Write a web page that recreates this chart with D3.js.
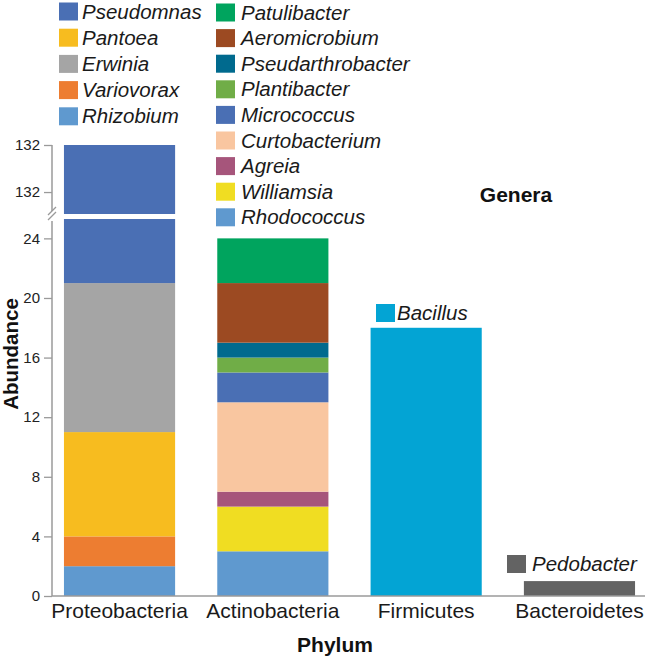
<!DOCTYPE html>
<html><head><meta charset="utf-8">
<script src="https://cdn.jsdelivr.net/npm/d3@7"></script>
<style>body{margin:0;background:#fff}text{font-family:"Liberation Sans",Arial,sans-serif}</style>
</head><body>
<svg id="c" width="645" height="660"></svg>
<script>
const phyla = ["Proteobacteria","Actinobacteria","Firmicutes","Bacteroidetes"];
const proteoGenera = ["Rhizobium","Variovorax","Pantoea","Erwinia","Pseudomonas"];
const proteoValues = [2,2,7,10,111];
const actinoGenera = ["Rhodococcus","Williamsia","Agreia","Curtobacterium","Micrococcus","Plantibacter","Pseudarthrobacter","Aeromicrobium","Patulibacter"];
const actinoValues = [3,3,1,6,2,1,1,4,3];
const firmGenera = ["Bacillus"];
const firmValues = [18];
const bactGenera = ["Pedobacter"];
const bactValues = [1];
const genusColors = {
  Pseudomonas:"#4a6fb4", Pantoea:"#f7bc1f", Erwinia:"#a5a5a5", Variovorax:"#ed7d31", Rhizobium:"#5f99cf",
  Patulibacter:"#00a45e", Aeromicrobium:"#9c4a22", Pseudarthrobacter:"#006a8e", Plantibacter:"#70ad47",
  Micrococcus:"#4a6fb4", Curtobacterium:"#f9c6a0", Agreia:"#a6557b", Williamsia:"#f0dd22", Rhodococcus:"#5f99cf",
  Bacillus:"#03a4d4", Pedobacter:"#636363"
};
// legend entries (label text as printed in the original figure)
const legendLeft = ["Pseudomonas","Pantoea","Erwinia","Variovorax","Rhizobium"];
const legendLeftLabels = ["Pseudomnas","Pantoea","Erwinia","Variovorax","Rhizobium"];
const legendRight = ["Patulibacter","Aeromicrobium","Pseudarthrobacter","Plantibacter","Micrococcus","Curtobacterium","Agreia","Williamsia","Rhodococcus"];
const lowerTicks = [0,4,8,12,16,20,24];
const upperTicks = [131.7,132];

const groups = [
  {phylum:phyla[0], genera:proteoGenera, values:proteoValues},
  {phylum:phyla[1], genera:actinoGenera, values:actinoValues},
  {phylum:phyla[2], genera:firmGenera, values:firmValues},
  {phylum:phyla[3], genera:bactGenera, values:bactValues}
];

const svg = d3.select("#c");
const axisX = 52, baseY = 596;
const x = d3.scaleBand().domain(phyla).range([axisX, 647]).paddingInner(0.275).paddingOuter(0.078);
const yLow = d3.scaleLinear().domain([0, 25.3]).range([baseY, 219]);
const yUp = d3.scaleLinear().domain([131.56, 132]).range([214, 145]);
const grey = "#9a9a9a";

// bars
const segs = [];
groups.forEach(g => {
  let acc = 0;
  g.genera.forEach((gen, i) => {
    segs.push({phylum:g.phylum, genus:gen, y0:acc, y1:acc + g.values[i]});
    acc += g.values[i];
  });
});
const lowMax = yLow.domain()[1], upMin = yUp.domain()[0];
const pieces = [];
segs.forEach(s => {
  if (s.y0 < lowMax) pieces.push({...s, top:yLow(Math.min(s.y1, lowMax)), bot:yLow(s.y0)});
  if (s.y1 > upMin) pieces.push({...s, top:yUp(s.y1), bot:yUp(Math.max(s.y0, upMin))});
});
svg.append("g").selectAll("rect").data(pieces).join("rect")
  .attr("x", d => x(d.phylum)).attr("width", x.bandwidth())
  .attr("y", d => d.top).attr("height", d => d.bot - d.top)
  .attr("fill", d => genusColors[d.genus]);

// y axes
function styleAxis(g){
  g.select(".domain").remove();
  g.selectAll(".tick line").attr("stroke", grey).attr("stroke-width", 1.3);
  g.selectAll(".tick text").attr("font-size", 15).attr("fill", "#222")
    .attr("font-family", '"Liberation Sans",Arial,sans-serif');
}
svg.append("g").attr("transform", `translate(${axisX},0)`)
  .call(d3.axisLeft(yLow).tickValues(lowerTicks).tickSize(8).tickPadding(4)).call(styleAxis);
svg.append("g").attr("transform", `translate(${axisX},0)`)
  .call(d3.axisLeft(yUp).tickValues(upperTicks).tickFormat(d3.format(".0f")).tickSize(8).tickPadding(4)).call(styleAxis);
// axis lines with break
svg.append("line").attr("x1", axisX).attr("x2", axisX).attr("y1", yUp(132)).attr("y2", 211)
  .attr("stroke", grey).attr("stroke-width", 1.5);
svg.append("line").attr("x1", axisX).attr("x2", axisX).attr("y1", 221).attr("y2", baseY)
  .attr("stroke", grey).attr("stroke-width", 1.5);
[0, 5].forEach(o => {
  svg.append("line").attr("x1", axisX - 4).attr("y1", 215 + o).attr("x2", axisX + 4).attr("y2", 207 + o)
    .attr("stroke", grey).attr("stroke-width", 1.3);
});
// x axis line
svg.append("line").attr("x1", axisX).attr("x2", 645).attr("y1", baseY).attr("y2", baseY)
  .attr("stroke", grey).attr("stroke-width", 1.5);

// x labels
svg.append("g").selectAll("text").data(phyla).join("text")
  .attr("x", d => x(d) + x.bandwidth()/2).attr("y", 618)
  .attr("text-anchor", "middle").attr("font-size", 21).attr("fill", "#1a1a1a").text(d => d);

// titles
svg.append("text").attr("x", 335).attr("y", 652).attr("text-anchor", "middle")
  .attr("font-size", 21).attr("font-weight", "bold").attr("fill", "#111").text("Phylum");
svg.append("text").attr("transform", "translate(18,354) rotate(-90)").attr("text-anchor", "middle")
  .attr("font-size", 20.5).attr("font-weight", "bold").attr("fill", "#111").text("Abundance");
svg.append("text").attr("x", 516).attr("y", 202).attr("text-anchor", "middle")
  .attr("font-size", 21).attr("font-weight", "bold").attr("fill", "#111").text("Genera");

// legends
function legend(items, labels, sx, tx, y0, step){
  const g = svg.append("g");
  items.forEach((name, i) => {
    const cy = y0 + i*step;
    g.append("rect").attr("x", sx).attr("y", cy - 9).attr("width", 19).attr("height", 18)
      .attr("fill", genusColors[name]);
    g.append("text").attr("x", tx).attr("y", cy + 7).attr("font-size", 20.5)
      .attr("font-style", "italic").attr("fill", "#1a1a1a").text(labels[i]);
  });
}
legend(legendLeft, legendLeftLabels, 59, 82, 11.5, 26.2);
legend(legendRight, legendRight, 216, 241, 12.5, 25.6);
legend(firmGenera, firmGenera, 376, 397, 313, 0);
legend(bactGenera, bactGenera, 507, 532, 564, 0);
</script>
</body></html>
